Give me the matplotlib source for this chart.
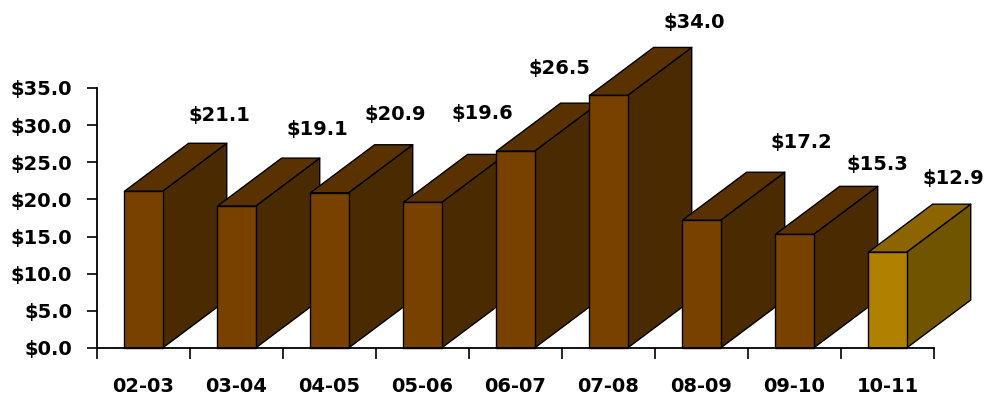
import matplotlib
matplotlib.use("Agg")
import matplotlib.pyplot as plt
from matplotlib.patches import Polygon
from matplotlib.ticker import FuncFormatter, FixedLocator

categories = ["02-03", "03-04", "04-05", "05-06", "06-07", "07-08", "08-09", "09-10", "10-11"]
values = [21.1, 19.1, 20.9, 19.6, 26.5, 34.0, 17.2, 15.3, 12.9]
value_labels = ["$21.1", "$19.1", "$20.9", "$19.6", "$26.5", "$34.0", "$17.2", "$15.3", "$12.9"]
y_ticks = [0, 5, 10, 15, 20, 25, 30, 35]

# layout: label nudges (pixels) from the back-top corner of each bar
label_nudge_px = [(12, 28), (17, 29), (2, 30), (-4, 41), (-20, 35),
                  (22, 25), (36, 30), (19, 22), (2, 26)]

brown = ("#784100", "#5A3200", "#4A2A00")   # front, top, side
gold = ("#B08000", "#8C6400", "#705400")

W, H = 985, 399
fig = plt.figure(figsize=(W / 100, H / 100), dpi=100)
ax = fig.add_axes([97 / W, 51 / H, (934 - 97) / W, 260 / H])
ax.set_xlim(-0.5, len(categories) - 0.5)
ax.set_ylim(0, 35)

bar_w = 0.41
dx = 0.69   # depth offset in category units
dy = 6.46   # depth offset in value units

for i, v in enumerate(values):
    front, top, side = gold if i == len(values) - 1 else brown
    z = 2 + i * 3
    xl, xr = i - bar_w / 2, i + bar_w / 2
    side_poly = Polygon([(xr, 0), (xr + dx, dy), (xr + dx, v + dy), (xr, v)],
                        closed=True, facecolor=side, edgecolor="black", lw=1.0,
                        clip_on=False, zorder=z, joinstyle="round")
    top_poly = Polygon([(xl, v), (xl + dx, v + dy), (xr + dx, v + dy), (xr, v)],
                       closed=True, facecolor=top, edgecolor="black", lw=1.0,
                       clip_on=False, zorder=z + 1, joinstyle="round")
    ax.add_patch(side_poly)
    ax.add_patch(top_poly)
    ax.bar([i], [v], width=bar_w, color=front, edgecolor="black", lw=1.0,
           zorder=z + 2, clip_on=False)
    nx, ny = label_nudge_px[i]
    ax.annotate(value_labels[i], xy=(i + dx, v + dy), xytext=(nx * 0.72, ny * 0.72),
                textcoords="offset points", ha="center", va="center",
                fontsize=14, fontweight="bold", family="DejaVu Sans",
                annotation_clip=False, zorder=50)

for s in ["top", "right"]:
    ax.spines[s].set_visible(False)
for s in ["left", "bottom"]:
    ax.spines[s].set_linewidth(1.3)
    ax.spines[s].set_zorder(60)

ax.yaxis.set_major_locator(FixedLocator(y_ticks))
ax.yaxis.set_major_formatter(FuncFormatter(lambda v, p: f"${v:.1f}"))
ax.tick_params(axis="y", direction="out", length=7, width=1.2, pad=11,
               labelsize=14)
ax.set_xticks(range(len(categories)))
ax.set_xticklabels(categories)
ax.set_xticks([k - 0.5 for k in range(len(categories) + 1)], minor=True)
ax.tick_params(axis="x", which="major", length=0, pad=21, labelsize=14)
ax.tick_params(axis="x", which="minor", direction="out", length=8, width=1.2)
for lab in ax.get_xticklabels() + ax.get_yticklabels():
    lab.set_fontweight("bold")
    lab.set_family("DejaVu Sans")

fig.savefig("out.png", dpi=100)
